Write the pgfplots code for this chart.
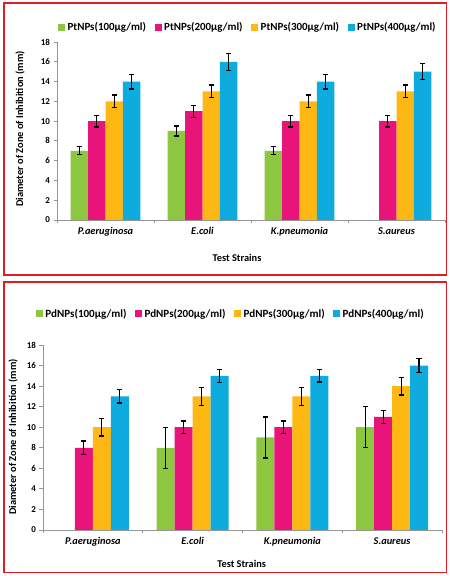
\documentclass[border=0pt]{standalone}
\usepackage{pgfplots}
\pgfplotsset{compat=1.18}
\usepackage{fontspec}
\setmainfont{Carlito}
\definecolor{cgreen}{RGB}{141,198,63}
\definecolor{cpink}{RGB}{232,20,122}
\definecolor{corange}{RGB}{253,184,20}
\definecolor{cblue}{RGB}{14,171,222}
\definecolor{cred}{RGB}{226,28,36}
\definecolor{caxis}{RGB}{150,150,150}

\pgfplotsset{
 mybar/.style={
  scale only axis,
  ybar,
  bar width=0.18,
  ymin=0, ymax=18, ytick={0,2,...,18},
  xmin=-0.5, xmax=3.5,
  axis x line*=bottom, axis y line*=left,
  axis line style={draw=caxis, line width=0.9bp},
  tick style={draw=caxis, line width=0.9bp},
  tick align=outside,
  major tick length=3.5bp,
  xtick={-0.5,0.5,1.5,2.5,3.5},
  xticklabels={},
  extra x ticks={0,1,2,3},
  extra x tick labels={\textit{P.aeruginosa},\textit{E.coli},\textit{K.pneumonia},\textit{S.aureus}},
  extra x tick style={major tick length=0pt, xticklabel style={yshift=-4bp}},
  /pgf/number format/assume math mode=true,
  yticklabel style={font=\fontsize{9}{10}\selectfont\bfseries},
  xticklabel style={font=\fontsize{10.4}{12}\selectfont\bfseries},
  label style={font=\fontsize{10.4}{12}\selectfont\bfseries},
  legend columns=4,
  legend style={draw=none, fill=none, font=\fontsize{11}{13}\selectfont\bfseries,
    nodes={inner sep=0.5bp},
    /tikz/every odd column/.append style={column sep=2bp},
    /tikz/every even column/.append style={column sep=8bp},
    inner sep=0pt},
  legend image code/.code={\fill[#1] (0bp,-3.5bp) rectangle (7bp,3.5bp);},
  error bars/y dir=both,
  error bars/y explicit,
  error bars/error bar style={black, line width=1.2bp},
  error bars/error mark options={black, line width=1.2bp, mark size=2.6bp, rotate=90},
 },
}

\begin{document}
\begin{tikzpicture}
\useasboundingbox (0bp,0bp) rectangle (450bp,576bp);
\fill[white] (0bp,0bp) rectangle (450bp,576bp);
\draw[cred, line width=1.7bp] (4bp,573bp) rectangle (446.5bp,301bp);
\draw[cred, line width=1.7bp] (4bp,294bp) rectangle (446.5bp,3.5bp);

% ---------- top panel: PtNPs ----------
\begin{axis}[mybar,
  at={(57bp,356bp)}, anchor=south west,
  width=388bp, height=178bp,
  legend style={at={(0.49,1.084)}, anchor=center},
  ylabel={Diameter of Zone of Inhibition (mm)},
  ylabel style={at={(axis description cs:-0.095,0.511)}, anchor=center},
  xlabel={Test Strains},
  xlabel style={at={(axis description cs:0.464,-0.213)}, anchor=center},
]
\addplot[fill=cgreen, draw=none, bar shift=-0.27] coordinates {
 (0,7) +- (0,0.4) (1,9) +- (0,0.5) (2,7) +- (0,0.4)};
\addplot[fill=cpink, draw=none, bar shift=-0.09] coordinates {
 (0,10) +- (0,0.6) (1,11) +- (0,0.6) (2,10) +- (0,0.6) (3,10) +- (0,0.6)};
\addplot[fill=corange, draw=none, bar shift=0.09] coordinates {
 (0,12) +- (0,0.65) (1,13) +- (0,0.65) (2,12) +- (0,0.65) (3,13) +- (0,0.65)};
\addplot[fill=cblue, draw=none, bar shift=0.27] coordinates {
 (0,14) +- (0,0.75) (1,16) +- (0,0.85) (2,14) +- (0,0.75) (3,15) +- (0,0.8)};
\legend{PtNPs(100µg/ml),PtNPs(200µg/ml),PtNPs(300µg/ml),PtNPs(400µg/ml)}
\end{axis}

% ---------- bottom panel: PdNPs ----------
\begin{axis}[mybar,
  at={(43bp,46bp)}, anchor=south west,
  width=399bp, height=185bp,
  legend style={at={(0.469,1.168)}, anchor=center, font=\fontsize{11.1}{13}\selectfont\bfseries},
  ylabel={Diameter of Zone of Inhibition (mm)},
  ylabel style={at={(axis description cs:-0.075,0.503)}, anchor=center},
  xlabel={Test Strains},
  xlabel style={at={(axis description cs:0.498,-0.184)}, anchor=center},
]
\addplot[fill=cgreen, draw=none, bar shift=-0.27] coordinates {
 (1,8) +- (0,2) (2,9) +- (0,2) (3,10) +- (0,2)};
\addplot[fill=cpink, draw=none, bar shift=-0.09] coordinates {
 (0,8) +- (0,0.65) (1,10) +- (0,0.6) (2,10) +- (0,0.6) (3,11) +- (0,0.6)};
\addplot[fill=corange, draw=none, bar shift=0.09] coordinates {
 (0,10) +- (0,0.85) (1,13) +- (0,0.85) (2,13) +- (0,0.85) (3,14) +- (0,0.87)};
\addplot[fill=cblue, draw=none, bar shift=0.27] coordinates {
 (0,13) +- (0,0.65) (1,15) +- (0,0.63) (2,15) +- (0,0.6) (3,16) +- (0,0.65)};
\legend{PdNPs(100µg/ml),PdNPs(200µg/ml),PdNPs(300µg/ml),PdNPs(400µg/ml)}
\end{axis}
\end{tikzpicture}
\end{document}
